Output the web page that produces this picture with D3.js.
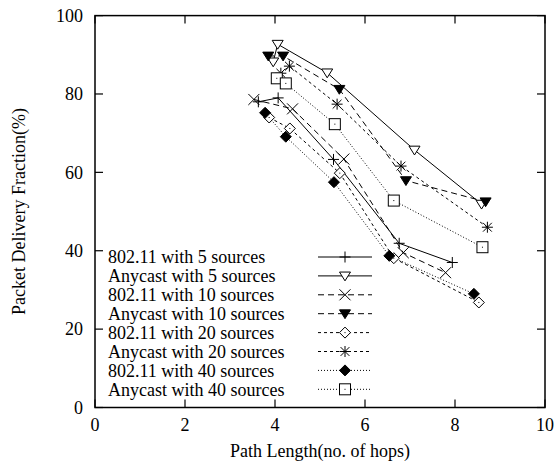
<!DOCTYPE html>
<html lang="en">
  <head>
    <meta charset="UTF-8" />
    <title>Packet Delivery Fraction vs Path Length</title>
    <style>
      body { margin: 0; background: #fff; }
      svg { display: block; font-family: "Liberation Serif", "Times New Roman", serif; }
    </style>
  </head>
  <body>
    <svg id="chart" width="556" height="467"></svg>
    <script src="https://d3js.org/d3.v7.min.js"></script>
    <script>
      // series data (x = hops, y = delivery %)
      const seriesNames = [
        "802.11 with 5 sources",
        "Anycast with 5 sources",
        "802.11 with 10 sources",
        "Anycast with 10 sources",
        "802.11 with 20 sources",
        "Anycast with 20 sources",
        "802.11 with 40 sources",
        "Anycast with 40 sources"
      ];
      const wifi5X = [3.63, 4.07, 5.3, 6.76, 7.94];
      const wifi5Y = [78, 79, 63.3, 41.9, 37];
      const any5X = [3.96, 4.06, 5.16, 7.1, 8.59];
      const any5Y = [88.2, 92.7, 85.4, 65.7, 51.9];
      const wifi10X = [3.53, 4.39, 5.53, 6.85, 7.79];
      const wifi10Y = [78.6, 76.2, 63.4, 39.5, 34.4];
      const any10X = [3.85, 4.18, 5.43, 6.91, 8.68];
      const any10Y = [89.7, 89.7, 81.2, 57.9, 52.5];
      const wifi20X = [3.87, 4.33, 5.44, 6.64, 8.53];
      const wifi20Y = [74, 71.2, 59.8, 38.1, 26.8];
      const any20X = [4.13, 4.32, 5.38, 6.8, 8.72];
      const any20Y = [85.3, 87.1, 77.4, 61.6, 46];
      const wifi40X = [3.78, 4.24, 5.31, 6.54, 8.42];
      const wifi40Y = [75.2, 69.1, 57.5, 38.7, 29];
      const any40X = [4.04, 4.24, 5.33, 6.64, 8.61];
      const any40Y = [84, 82.7, 72.3, 52.8, 40.9];

      const xTicks = [0, 2, 4, 6, 8, 10];
      const yTicks = [0, 20, 40, 60, 80, 100];

      const seriesX = [wifi5X, any5X, wifi10X, any10X, wifi20X, any20X, wifi40X, any40X];
      const seriesY = [wifi5Y, any5Y, wifi10Y, any10Y, wifi20Y, any20Y, wifi40Y, any40Y];
      const dashes = ["none", "none", "6,4", "6,4", "3,3", "3,3", "1,2", "1,2"];
      const markers = ["plus", "tri", "cross", "tridown", "diamond", "star", "fdiamond", "square"];

      const margin = { top: 15.6, right: 11, bottom: 59.5, left: 95 };
      const width = 556 - margin.left - margin.right;
      const height = 467 - margin.top - margin.bottom;
      const fontSize = 18;

      const svg = d3.select("#chart");
      const g = svg.append("g").attr("transform", `translate(${margin.left},${margin.top})`);

      const x = d3.scaleLinear().domain([0, 10]).range([0, width]);
      const y = d3.scaleLinear().domain([0, 100]).range([height, 0]);

      // marker drawing, gnuplot-ish shapes
      function drawMarker(sel, type, cx, cy) {
        const s = 5.5;
        const m = sel.append("g").attr("transform", `translate(${cx},${cy})`);
        const line = (x1, y1, x2, y2) =>
          m.append("line").attr("x1", x1).attr("y1", y1).attr("x2", x2).attr("y2", y2)
            .attr("stroke", "#000").attr("stroke-width", 1);
        const dot = () => m.append("rect").attr("x", -0.5).attr("y", -0.5).attr("width", 1).attr("height", 1).attr("fill", "#000");
        if (type === "plus") {
          line(-s, 0, s, 0); line(0, -s, 0, s);
        } else if (type === "cross") {
          line(-s, -s, s, s); line(-s, s, s, -s);
        } else if (type === "star") {
          line(-s, 0, s, 0); line(0, -s, 0, s);
          line(-s * 0.8, -s * 0.8, s * 0.8, s * 0.8); line(-s * 0.8, s * 0.8, s * 0.8, -s * 0.8);
        } else if (type === "tri") {
          m.append("path").attr("d", `M${-s},${-s * 0.7}L${s},${-s * 0.7}L0,${s * 0.9}Z`)
            .attr("fill", "#fff").attr("stroke", "#000").attr("stroke-width", 1);
        } else if (type === "tridown") {
          m.append("path").attr("d", `M${-s},${-s * 0.7}L${s},${-s * 0.7}L0,${s * 0.9}Z`)
            .attr("fill", "#000").attr("stroke", "#000").attr("stroke-width", 1);
        } else if (type === "diamond") {
          m.append("path").attr("d", `M0,${-s}L${s},0L0,${s}L${-s},0Z`)
            .attr("fill", "#fff").attr("stroke", "#000").attr("stroke-width", 1);
          dot();
        } else if (type === "fdiamond") {
          m.append("path").attr("d", `M0,${-s}L${s},0L0,${s}L${-s},0Z`)
            .attr("fill", "#000").attr("stroke", "#000").attr("stroke-width", 1);
        } else if (type === "square") {
          m.append("rect").attr("x", -s).attr("y", -s).attr("width", 2 * s).attr("height", 2 * s)
            .attr("fill", "#fff").attr("stroke", "#000").attr("stroke-width", 1);
          dot();
        }
      }

      // ticks, mirrored on all sides, pointing inward
      const tickLen = 8;
      xTicks.forEach((t) => {
        g.append("line").attr("x1", x(t)).attr("x2", x(t)).attr("y1", height).attr("y2", height - tickLen)
          .attr("stroke", "#000").attr("stroke-width", 1.2);
        g.append("line").attr("x1", x(t)).attr("x2", x(t)).attr("y1", 0).attr("y2", tickLen)
          .attr("stroke", "#000").attr("stroke-width", 1.2);
        g.append("text").attr("x", x(t)).attr("y", height + 24).attr("text-anchor", "middle")
          .attr("font-size", fontSize).text(t);
      });
      yTicks.forEach((t) => {
        g.append("line").attr("x1", 0).attr("x2", tickLen).attr("y1", y(t)).attr("y2", y(t))
          .attr("stroke", "#000").attr("stroke-width", 1.2);
        g.append("line").attr("x1", width).attr("x2", width - tickLen).attr("y1", y(t)).attr("y2", y(t))
          .attr("stroke", "#000").attr("stroke-width", 1.2);
        g.append("text").attr("x", -12).attr("y", y(t)).attr("dy", "0.35em").attr("text-anchor", "end")
          .attr("font-size", fontSize).text(t);
      });

      // series lines and markers
      seriesNames.forEach((name, i) => {
        const pts = seriesX[i].map((v, j) => [v, seriesY[i][j]]);
        g.append("path")
          .datum(pts)
          .attr("fill", "none")
          .attr("stroke", "#000")
          .attr("stroke-width", 1)
          .attr("stroke-dasharray", dashes[i])
          .attr("d", d3.line().x((d) => x(d[0])).y((d) => y(d[1])));
      });
      seriesNames.forEach((name, i) => {
        seriesX[i].forEach((v, j) => drawMarker(g, markers[i], x(v), y(seriesY[i][j])));
      });

      // legend
      const legY0 = 257 - margin.top;
      const legStep = 18.9;
      seriesNames.forEach((name, i) => {
        const ly = legY0 + i * legStep;
        g.append("text").attr("x", 13).attr("y", ly).attr("dy", "0.35em")
          .attr("font-size", fontSize).text(name);
        g.append("line").attr("x1", 223).attr("x2", 277).attr("y1", ly).attr("y2", ly)
          .attr("stroke", "#000").attr("stroke-width", 1).attr("stroke-dasharray", dashes[i]);
        drawMarker(g, markers[i], 250, ly);
      });

      // frame
      g.append("rect").attr("width", width).attr("height", height)
        .attr("fill", "none").attr("stroke", "#000").attr("stroke-width", 1.5);

      // axis titles
      svg.append("text").attr("x", margin.left + width / 2).attr("y", 457)
        .attr("text-anchor", "middle").attr("font-size", fontSize).text("Path Length(no. of hops)");
      svg.append("text").attr("transform", `translate(25,${margin.top + height / 2}) rotate(-90)`)
        .attr("text-anchor", "middle").attr("font-size", fontSize).text("Packet Delivery Fraction(%)");
    </script>
  </body>
</html>
